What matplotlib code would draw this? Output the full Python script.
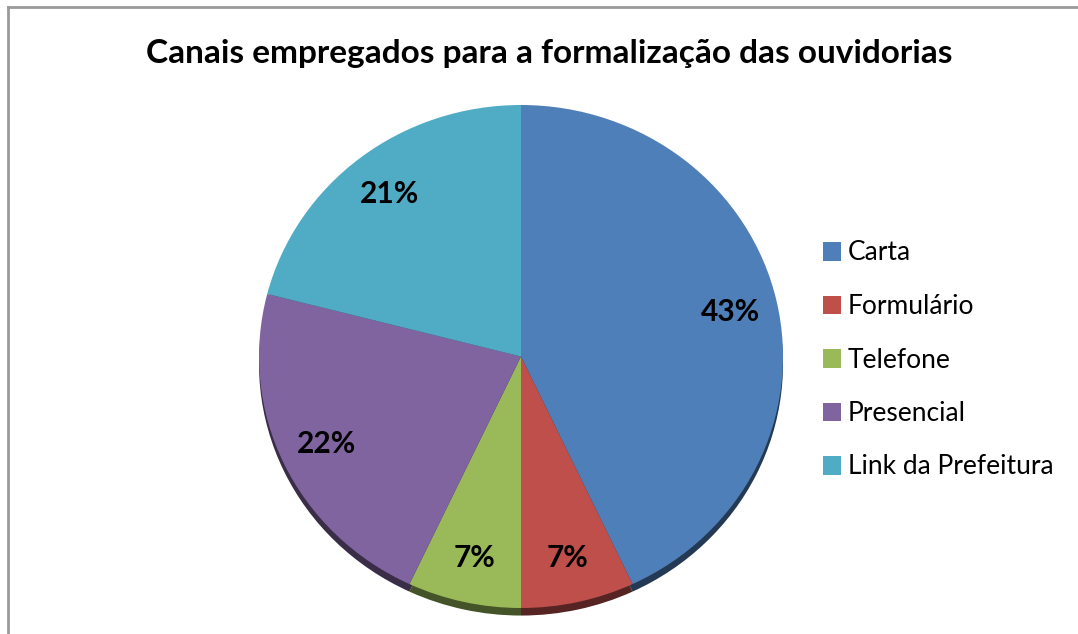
import matplotlib
matplotlib.use("Agg")
import matplotlib.pyplot as plt
from matplotlib.lines import Line2D
import matplotlib.colors as mcolors

categories = ["Carta", "Formulário", "Telefone", "Presencial", "Link da Prefeitura"]
values = [43, 7, 7, 22, 21]
colors = ["#4F7FB8", "#BE4F4B", "#9AB958", "#8064A0", "#50ABC5"]
title = "Canais empregados para a formalização das ouvidorias"

W, H = 1078, 634
fig = plt.figure(figsize=(W / 100, H / 100), dpi=100)
fig.patch.set_facecolor("white")

# pie axes box in pixels
x0, x1 = 259, 783
ytop, ybot = 105, 608
ax = fig.add_axes([x0 / W, 1 - ybot / H, (x1 - x0) / W, (ybot - ytop) / H])

# darker rim behind (shadow/bevel)
dark = [tuple(c * 0.45 for c in mcolors.to_rgb(col)) for col in colors]
ax.pie(values, colors=dark, startangle=90, counterclock=False, radius=1.0,
       center=(0, -0.03), wedgeprops=dict(linewidth=0))

wedges, texts, autotexts = ax.pie(
    values, colors=colors, startangle=90, counterclock=False, radius=1.0,
    autopct=lambda p: f"{p:.0f}%", pctdistance=0.82,
    wedgeprops=dict(linewidth=0),
    textprops=dict(fontsize=21.5, fontweight="bold", color="black", family="Lato"))
ax.set_aspect("auto")
ax.set_xlim(-1, 1)
ax.set_ylim(-1, 1)
ax.axis("off")

fig.text(549 / W, 1 - 53 / H, title, ha="center", va="center",
         fontsize=24, fontweight="bold", family="Lato")

fig.legend(wedges, categories, loc="center left",
           bbox_to_anchor=(812 / W, 1 - 360 / H), frameon=False,
           prop=dict(family="Lato", size=19), handlelength=0.7, handleheight=0.7,
           handletextpad=0.25, labelspacing=1.08, borderaxespad=0)

# chart frame lines
fig.add_artist(Line2D([8 / W, 1], [1 - 7 / H, 1 - 7 / H], color="#9a9a9a", lw=2,
                      transform=fig.transFigure))
fig.add_artist(Line2D([8 / W, 8 / W], [0, 1 - 7 / H], color="#9a9a9a", lw=2,
                      transform=fig.transFigure))

fig.savefig("out.png", dpi=100)
